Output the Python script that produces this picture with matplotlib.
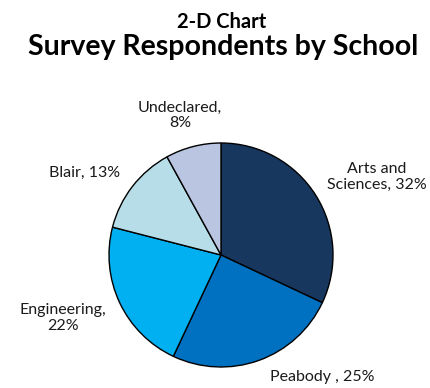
import numpy as np
import matplotlib
matplotlib.use("Agg")
import matplotlib.pyplot as plt

plt.rcParams["font.family"] = ["Lato", "DejaVu Sans"]

schools = ["Arts and\nSciences", "Peabody ", "Engineering,\n", "Blair", "Undeclared,\n"]
shares = [32, 25, 22, 13, 8]
colors = ["#17375E", "#0070C0", "#00B0F0", "#B7DEE8", "#B9C5E1"]

# label anchor offsets (pixels from the pie centre) for each slice
label_offsets = [(156, 78), (101, -122), (-158, -63), (-136, 82), (-41, 140)]

W, H = 431, 388
fig = plt.figure(figsize=(W / 100, H / 100), dpi=100)
ax = fig.add_axes([0, 0, 1, 1])

cx, cy, r = 221, H - 255, 112
wedges, _ = ax.pie(shares, colors=colors, startangle=90, counterclock=False,
                   center=(cx, cy), radius=r,
                   wedgeprops=dict(edgecolor="black", linewidth=1.0))
ax.set_xlim(0, W)
ax.set_ylim(0, H)
ax.set_aspect("equal")
ax.axis("off")

for name, val, (dx, dy) in zip(schools, shares, label_offsets):
    if name.endswith("\n"):
        txt = f"{name}{val}%"
    else:
        txt = f"{name}, {val}%"
    ax.text(cx + dx, cy + dy, txt, ha="center", va="center", fontsize=11.5,
            color="#1a1a1a", linespacing=1.1)

fig.text(222 / W, 1 - 28 / H, "2-D Chart", ha="center", va="baseline",
         fontsize=14.5, fontweight="bold")
fig.text(223 / W, 1 - 55 / H, "Survey Respondents by School", ha="center",
         va="baseline", fontsize=20.5, fontweight="bold")

fig.savefig("out.png", dpi=100, facecolor="white")
